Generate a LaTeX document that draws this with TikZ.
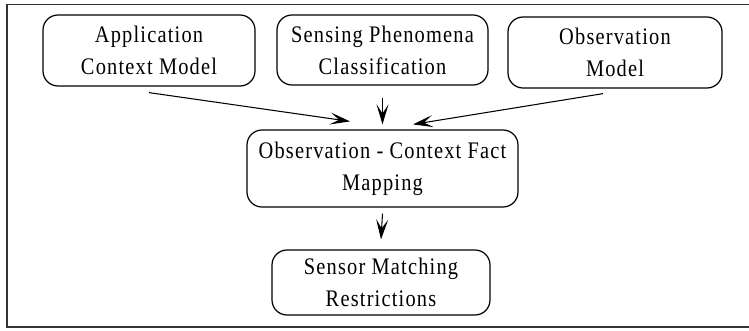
\documentclass[tikz,border=0pt]{standalone}
\usepackage{fontspec}
\setmainfont{Liberation Serif}[LetterSpace=5, FakeStretch=0.86]
\usetikzlibrary{arrows.meta}
\tikzset{
  box/.style={draw, rounded corners=0.3cm, line width=0.7pt, align=center, inner sep=0pt, font=\fontsize{13.5}{18.2}\selectfont},
  arr/.style={-{Stealth[length=4mm, width=2.4mm, inset=1.8mm]}, line width=0.6pt}
}
\begin{document}
\begin{tikzpicture}
\useasboundingbox (0,0) rectangle (14.98,6.6);
\draw[line width=1pt, black!80] (15.2,6.51) -- (0.14,6.51) -- (0.14,0.06) -- (15.2,0.06);
\node[box, minimum width=4.24cm, minimum height=1.42cm] (app) at (2.98,5.59) {Application\\Context Model};
\node[box, minimum width=4.22cm, minimum height=1.40cm] (sens) at (7.65,5.6) {Sensing Phenomena\\Classification};
\node[box, minimum width=4.28cm, minimum height=1.42cm] (obs) at (12.3,5.55) {Observation\\Model};
\node[box, minimum width=5.42cm, minimum height=1.54cm] (map) at (7.65,3.23) {Observation - Context Fact\\Mapping};
\node[box, minimum width=4.36cm, minimum height=1.30cm] (match) at (7.62,0.95) {Sensor Matching\\Restrictions};
\draw[arr] ([yshift=-0.12cm]app.south) to ([xshift=-0.65cm, yshift=0.16cm]map.north);
\draw[arr] ([yshift=-0.24cm]sens.south) to ([yshift=0.1cm]map.north);
\draw[arr] ([xshift=-0.24cm, yshift=-0.1cm]obs.south) to ([xshift=0.61cm, yshift=0.1cm]map.north);
\draw[arr] ([yshift=-0.12cm]map.south) to ([yshift=0.2cm]match.north);
\end{tikzpicture}
\end{document}
